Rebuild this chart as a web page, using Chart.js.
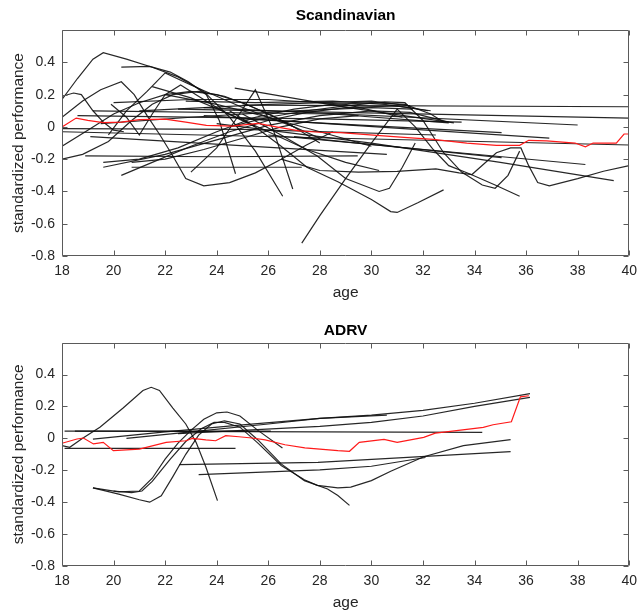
<!DOCTYPE html>
<html lang="en">
  <head>
    <meta charset="UTF-8" />
    <title>Standardized performance by age</title>
    <script src="https://cdn.jsdelivr.net/npm/chart.js@4.4.0/dist/chart.umd.min.js"></script>
    <style>
      body { margin: 0; background: #fff; }
      canvas { display: block; }
    </style>
  </head>
  <body>
    <canvas id="scandChart" width="644" height="308"></canvas>
    <canvas id="adrvChart" width="644" height="308"></canvas>
    <script>
      const xTicks = [18, 20, 22, 24, 26, 28, 30, 32, 34, 36, 38, 40];
      const yTicks = [-0.8, -0.6, -0.4, -0.2, 0, 0.2, 0.4];
      const panelTitles = ["Scandinavian", "ADRV"];

      // red line = group average, black lines = single athletes  [age, value]
      const scandMean = [
        [18, 0], [18.55, 0.055], [19, 0.04], [19.6, 0.027], [20.3, 0.03], [21, 0.045],
        [22, 0.048], [22.8, 0.03], [23.6, 0.01], [24.6, 0.005], [25.6, 0.022], [26.3, 0],
        [27.2, -0.025], [28, -0.033], [28.8, -0.035], [30.2, -0.052], [31.4, -0.066],
        [32.4, -0.077], [33.7, -0.1], [34.85, -0.114], [35.75, -0.114], [36.1, -0.083],
        [36.8, -0.087], [37.9, -0.1], [38.3, -0.123], [38.6, -0.1], [39.5, -0.1],
        [39.8, -0.044], [40, -0.044],
      ];

      const scandRuns = [
        [[18, 0.17], [18.6, 0.3], [19.2, 0.42], [19.6, 0.46], [20.5, 0.42], [21.5, 0.37], [22.5, 0.31], [23.5, 0.22], [24.5, 0.06], [25.5, -0.15], [26.56, -0.43]],
        [[18, 0.19], [18.45, 0.21], [18.75, 0.2], [19.2, 0.1], [19.6, 0.03], [20, -0.02], [20.4, -0.03]],
        [[20.3, 0.37], [21.4, 0.375], [22.2, 0.34], [22.9, 0.28], [23.6, 0.2], [24.1, 0.04], [24.73, -0.29]],
        [[19.8, -0.05], [20.5, 0.1], [21.3, 0.22], [22, 0.335], [23, 0.26], [24, 0.19], [25, 0.12], [26, 0.06], [27, 0], [28, -0.07]],
        [[18, 0.06], [18.8, 0.16], [19.5, 0.23], [20.3, 0.28], [20.8, 0.2], [21.3, 0.07], [21.8, -0.05], [22.3, -0.18], [22.8, -0.32], [23.5, -0.365], [24.5, -0.345], [25.5, -0.285], [26.5, -0.2], [27.5, -0.11], [28.5, -0.03]],
        [[18, -0.12], [19, -0.02], [20, 0.08], [21, 0.15], [22, 0.2], [23, 0.22], [24, 0.2], [25, 0.15], [26, 0.08], [27, 0], [28, -0.1]],
        [[18, -0.2], [18.8, -0.17], [19.8, -0.09], [20.7, 0.04], [21.5, 0.14], [22.3, 0.2], [23.3, 0.22], [24.3, 0.19], [25.3, 0.13], [26.3, 0.06], [27, 0]],
        [[18, -0.03], [40, -0.112]],
        [[18, -0.01], [25, -0.015], [32.5, -0.05]],
        [[19.1, -0.06], [30.6, -0.17]],
        [[18.9, -0.18], [24, -0.185], [29.47, -0.18]],
        [[20.7, -0.25], [27.3, -0.25]],
        [[19.6, -0.25], [22, -0.17], [24, -0.08], [26, 0.01], [28, 0.07], [30, 0.1], [31.5, 0.09], [33, 0.03]],
        [[19.6, -0.22], [21, -0.2], [22.5, -0.13], [24, -0.03], [25.5, 0.06], [27, 0.11], [28.5, 0.14], [30, 0.15], [31.3, 0.14], [32.3, 0.08], [32.8, 0.03]],
        [[20.3, -0.3], [21.5, -0.22], [23, -0.12], [24.5, -0.03], [26, 0.04], [27.5, 0.09], [29, 0.12], [31, 0.13], [32.2, 0.1]],
        [[24.7, 0.24], [29.1, 0.12], [33.2, 0.025]],
        [[23, -0.28], [24, -0.13], [24.8, 0.06], [25.5, 0.23], [26.2, -0.02], [26.95, -0.385]],
        [[24.5, 0.1], [25.5, 0], [26.5, -0.12], [27.5, -0.25], [28.7, -0.34], [30, -0.45], [30.75, -0.525], [31, -0.53], [31.8, -0.47], [32.8, -0.39]],
        [[25, 0.08], [26.5, -0.05], [27.9, -0.18], [29, -0.32], [30.3, -0.4], [30.7, -0.38], [31.2, -0.25], [31.7, -0.1]],
        [[27.3, -0.72], [28, -0.55], [29, -0.32], [30, -0.1], [31, 0.11], [31.7, 0], [32.4, -0.14], [33, -0.24], [33.8, -0.29], [34.8, -0.36], [35.75, -0.43]],
        [[24.5, 0], [26, 0.06], [27.5, 0.1], [29, 0.13], [30.5, 0.155], [31.3, 0.15], [32, 0.04], [32.8, -0.16], [33.5, -0.28], [34.3, -0.36], [34.8, -0.38], [35.3, -0.3], [35.75, -0.15]],
        [[26.5, -0.2], [28, -0.27], [29.5, -0.28], [31, -0.275], [32.5, -0.26], [33.4, -0.285], [33.9, -0.295], [34.85, -0.16], [35.4, -0.13], [35.8, -0.13], [36.1, -0.24], [36.45, -0.345], [36.9, -0.365], [38, -0.32], [39, -0.275], [40, -0.24]],
        [[25, 0.135], [40, 0.125]],
        [[22.5, 0.11], [40, 0.055]],
        [[23.5, 0.12], [38, 0.012]],
        [[25, 0.05], [35.05, -0.035]],
        [[23.5, 0.07], [36.9, -0.07]],
        [[26, -0.05], [38.3, -0.233]],
        [[24, 0.02], [30, -0.1], [35, -0.22], [39.4, -0.333]],
        [[27, -0.06], [35.05, -0.19]],
        [[21, 0.1], [26, 0.14], [30, 0.16], [31.5, 0.13]],
        [[19.2, 0.1], [28.5, 0.08], [33, 0.025]],
        [[18.6, 0.07], [28, 0.05], [33.5, 0.03]],
        [[20, 0.15], [23, 0.17], [26, 0.17], [29, 0.14], [31.2, 0.06]],
        [[20.7, -0.22], [22, -0.2], [23.5, -0.14], [25, -0.07], [26.5, 0], [28, 0.05], [29.5, 0.07]],
        [[21.5, 0.25], [23, 0.18], [24.5, 0.08], [26, -0.03], [27.5, -0.14], [29, -0.22], [30.3, -0.27]],
        [[22, 0.2], [24, 0.14], [26, 0.06], [28, -0.03], [30, -0.12]],
        [[19.9, 0.14], [20.5, 0.06], [21, -0.05], [21.5, 0.08], [22, 0.2], [22.6, 0.26], [23.2, 0.2], [24.2, 0.1], [25.5, 0]],
        [[22.8, 0.16], [25.5, 0.15], [28.5, 0.16], [30.5, 0.14], [32.3, 0.1]],
        [[19.5, 0.02], [23, 0.06], [27, 0.1], [30, 0.12], [31.6, 0.11]],
      ];

      const adrvMean = [
        [18, -0.031], [18.58, -0.004], [18.83, 0.002], [19.22, -0.035], [19.6, -0.025],
        [19.99, -0.077], [21, -0.067], [22.04, -0.025], [22.8, -0.015], [23.06, 0],
        [23.58, -0.01], [23.96, -0.015], [24.35, 0.017], [24.86, 0.01], [25.37, 0.002],
        [25.88, -0.01], [26.65, -0.04], [27.42, -0.06], [28.7, -0.077], [29.15, -0.081],
        [29.53, -0.025], [30.49, -0.006], [31, -0.025], [32.03, 0.006], [32.48, 0.033],
        [33.06, 0.044], [34.34, 0.069], [34.72, 0.085], [35.43, 0.104], [35.78, 0.26],
        [36.11, 0.267],
      ];

      const adrvRuns = [
        [[18, -0.046], [18.3, -0.056], [18.8, 0], [19.47, 0.069], [20.37, 0.19], [21.14, 0.3], [21.46, 0.32], [21.78, 0.3], [22.3, 0.19], [22.8, 0.09], [23.2, -0.025], [23.58, -0.18], [24.03, -0.39]],
        [[19.2, -0.31], [20.2, -0.335], [21, -0.33], [21.5, -0.25], [22, -0.13], [22.5, -0.03], [23, 0.05], [23.5, 0.12], [24, 0.16], [24.4, 0.165], [24.9, 0.14], [25.6, 0.05], [26.55, -0.06]],
        [[19.2, -0.31], [20.2, -0.35], [21, -0.385], [21.4, -0.4], [21.85, -0.36], [22.3, -0.24], [22.8, -0.1], [23.3, 0.02], [23.8, 0.09], [24.3, 0.11], [24.9, 0.09], [25.6, -0.01], [26.5, -0.16], [27.4, -0.265], [28.3, -0.317], [28.7, -0.358], [29.15, -0.42]],
        [[20, -0.33], [20.7, -0.34], [21.1, -0.33], [21.5, -0.27], [22.2, -0.13], [22.8, -0.02], [23.4, 0.06], [23.9, 0.1], [24.3, 0.1], [24.9, 0.07], [25.6, -0.03], [26.5, -0.17], [27.4, -0.26], [27.9, -0.295], [28.7, -0.31], [29.2, -0.306], [30, -0.265], [30.75, -0.206], [32.03, -0.115], [33.57, -0.046], [35.4, -0.008]],
        [[18.1, 0.045], [26.1, 0.045]],
        [[18.5, 0.045], [34.3, 0.037]],
        [[18.1, -0.063], [24.73, -0.063]],
        [[22.55, -0.165], [27.93, -0.15], [35.4, -0.083]],
        [[23.3, -0.227], [28, -0.198], [30, -0.175], [32.1, -0.12]],
        [[19.2, -0.005], [22, 0.04], [25, 0.085], [28, 0.125], [30.6, 0.146]],
        [[20.5, 0], [23, 0.04], [26, 0.09], [28, 0.125], [30, 0.145], [32, 0.175], [34, 0.22], [36.15, 0.28]],
        [[22.5, 0.03], [25, 0.05], [28, 0.075], [30, 0.1], [32, 0.14], [34, 0.2], [36.15, 0.257]],
      ];

      const fontFamily = "'Liberation Sans', Arial, Helvetica, sans-serif";
      const textColor = "#262626";

      // matlab style box with inward ticks on all four sides
      const axisBox = {
        id: "axisBox",
        afterDraw(chart) {
          const ctx = chart.ctx;
          const a = chart.chartArea;
          const sx = chart.scales.x;
          const sy = chart.scales.y;
          const l = Math.round(a.left) + 0.5, r = Math.round(a.right) - 0.5;
          const t = Math.round(a.top) + 0.5, b = Math.round(a.bottom) - 0.5;
          ctx.save();
          ctx.strokeStyle = "#5a5a5a";
          ctx.lineWidth = 1;
          ctx.beginPath();
          ctx.rect(l, t, r - l, b - t);
          xTicks.forEach((v) => {
            const px = Math.round(sx.getPixelForValue(v)) + 0.5;
            ctx.moveTo(px, b); ctx.lineTo(px, b - 5);
            ctx.moveTo(px, t); ctx.lineTo(px, t + 5);
          });
          yTicks.forEach((v) => {
            const py = Math.round(sy.getPixelForValue(v)) + 0.5;
            ctx.moveTo(l, py); ctx.lineTo(l + 5, py);
            ctx.moveTo(r, py); ctx.lineTo(r - 5, py);
          });
          ctx.stroke();
          ctx.restore();
        },
      };

      const toPoints = (arr) => arr.map(([x, y]) => ({ x: x, y: y }));

      function makeChart(id, title, mean, runs, titlePad, xHeight) {
        const datasets = [
          {
            data: toPoints(mean),
            borderColor: "#ff1a1a",
            borderWidth: 1.2,
          },
        ];
        runs.forEach((r) => {
          datasets.push({
            data: toPoints(r),
            borderColor: "rgba(15,15,15,0.9)",
            borderWidth: 1.2,
          });
        });

        return new Chart(document.getElementById(id), {
          type: "scatter",
          data: { datasets: datasets },
          plugins: [axisBox],
          options: {
            responsive: false,
            animation: false,
            events: [],
            showLine: true,
            elements: { point: { radius: 0 }, line: { tension: 0 } },
            layout: { padding: { left: 0, right: 10, top: 0, bottom: 0 } },
            plugins: {
              legend: { display: false },
              tooltip: { enabled: false },
              title: {
                display: true,
                text: title,
                fullSize: false,
                color: "#000",
                font: { family: fontFamily, size: 15.5, weight: "bold" },
                padding: titlePad,
              },
            },
            scales: {
              x: {
                type: "linear",
                min: 18,
                max: 40,
                afterBuildTicks: (s) => { s.ticks = xTicks.map((v) => ({ value: v })); },
                afterFit: (s) => { s.height = xHeight; },
                grid: { display: false, drawTicks: false },
                border: { display: false },
                ticks: {
                  padding: 7,
                  color: textColor,
                  maxRotation: 0,
                  font: { family: fontFamily, size: 14 },
                },
                title: {
                  display: true,
                  text: "age",
                  color: textColor,
                  font: { family: fontFamily, size: 15.5 },
                  padding: { top: 0, bottom: xHeight - 46 },
                },
              },
              y: {
                type: "linear",
                min: -0.8,
                max: 0.6,
                afterBuildTicks: (s) => { s.ticks = yTicks.map((v) => ({ value: v })); },
                afterFit: (s) => { s.width = 62; },
                grid: { display: false, drawTicks: false },
                border: { display: false },
                ticks: {
                  padding: 7,
                  color: textColor,
                  font: { family: fontFamily, size: 14 },
                  callback: (v) => String(Math.round(v * 10) / 10),
                },
                title: {
                  display: true,
                  text: "standardized performance",
                  color: textColor,
                  font: { family: fontFamily, size: 15.5 },
                  padding: { top: 9, bottom: 0 },
                },
              },
            },
          },
        });
      }

      makeChart("scandChart", panelTitles[0], scandMean, scandRuns, { top: 6, bottom: 5.5 }, 52);
      makeChart("adrvChart", panelTitles[1], adrvMean, adrvRuns, { top: 13, bottom: 3 }, 50);
    </script>
  </body>
</html>
